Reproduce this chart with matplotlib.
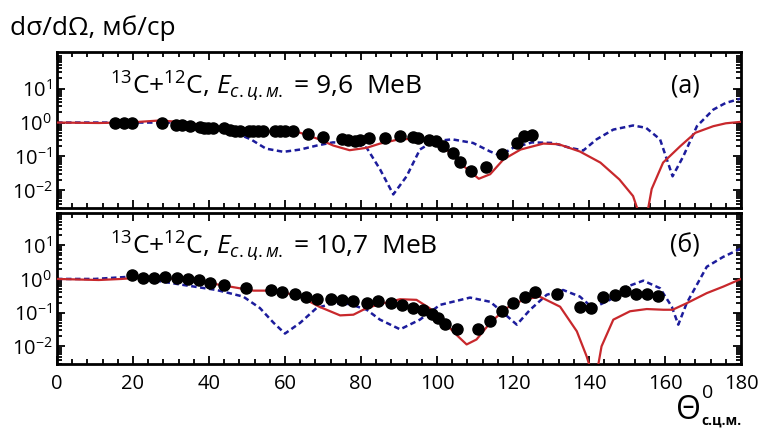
import matplotlib
matplotlib.use('Agg')
import matplotlib.pyplot as plt
from matplotlib.ticker import MultipleLocator, LogLocator, NullFormatter, FixedLocator
import numpy as np

plt.rcParams['font.family'] = ['Open Sans', 'DejaVu Sans']
plt.rcParams['mathtext.fontset'] = 'custom'
plt.rcParams['mathtext.rm'] = 'Open Sans'
plt.rcParams['mathtext.it'] = 'Open Sans:italic'

# ---- panel (a): E = 9,6 MeV ----
exp_a_x = [15.3, 17.6, 19.7, 27.7, 31.2, 32.8, 35.0, 37.6, 38.7, 39.8, 41.1, 43.9, 45.5,
           46.8, 48.2, 50.4, 51.7, 53.0, 54.3, 57.4, 58.7, 60.0, 62.2, 66.1, 70.1, 74.9,
           76.7, 78.4, 79.7, 82.2, 86.3, 90.3, 93.8, 95.1, 98.0, 99.7, 101.7, 104.3,
           106.0, 108.9, 112.9, 117.0, 121.0, 123.0, 124.9]
exp_a_y = [1.0, 1.0, 1.0, 0.98, 0.87, 0.83, 0.78, 0.73, 0.71, 0.71, 0.70, 0.67, 0.62,
           0.58, 0.58, 0.55, 0.55, 0.55, 0.55, 0.55, 0.55, 0.55, 0.58, 0.46, 0.38, 0.32,
           0.30, 0.28, 0.30, 0.35, 0.35, 0.40, 0.37, 0.35, 0.30, 0.28, 0.20, 0.13,
           0.068, 0.037, 0.049, 0.115, 0.25, 0.40, 0.44]

red_a_x = [0, 11, 20, 27, 32, 37.6, 45, 55, 64, 69, 72.7, 77, 81.5, 85, 90, 93.8, 98,
           102.5, 107, 111, 114, 117.5, 122, 128, 132, 137.6, 143, 148, 151.6, 153.2,
           155.3, 156.5, 159.5, 164, 168, 172.7, 176, 180]
red_a_y = [1.0, 0.97, 1.02, 1.15, 1.05, 0.87, 0.68, 0.55, 0.50, 0.32, 0.21, 0.153, 0.18,
           0.24, 0.32, 0.33, 0.28, 0.16, 0.052, 0.022, 0.03, 0.082, 0.16, 0.24, 0.23,
           0.14, 0.066, 0.021, 0.0068, 0.002, 0.002, 0.011, 0.066, 0.2, 0.5, 0.78, 0.95, 1.05]

blue_a_x = [0, 10, 20, 30, 38, 46, 51, 55, 59.6, 64, 68.4, 72.6, 78, 81.5, 85, 88.5,
            92, 95.5, 99, 104, 109.5, 114, 116.6, 120, 125, 130.5, 135, 138.5, 142,
            146.4, 151.6, 155, 158.7, 162, 164.8, 168.4, 172.7, 176, 180]
blue_a_y = [1.0, 1.0, 1.0, 1.0, 0.85, 0.55, 0.32, 0.17, 0.137, 0.16, 0.21, 0.26, 0.25,
            0.18, 0.042, 0.0076, 0.026, 0.16, 0.28, 0.32, 0.25, 0.14, 0.107, 0.18, 0.26,
            0.25, 0.18, 0.15, 0.32, 0.62, 0.82, 0.70, 0.32, 0.026, 0.10, 0.78, 2.4, 3.8, 5.1]

# ---- panel (б): E = 10,7 MeV ----
exp_b_x = [19.7, 22.7, 25.5, 28.4, 31.5, 34.6, 37.5, 40.3, 44.0, 49.7, 56.2, 59.1, 62.6,
           65.5, 68.3, 72.0, 74.9, 78.0, 81.5, 84.6, 88.0, 90.7, 93.8, 96.4, 98.6, 100.3,
           102.1, 105.2, 110.9, 114.0, 117.0, 120.0, 123.2, 125.8, 131.5, 137.6, 140.5,
           143.6, 146.8, 149.5, 152.5, 155.2, 158.2]
exp_b_y = [1.3, 1.05, 1.05, 1.12, 1.1, 1.0, 0.93, 0.78, 0.64, 0.53, 0.47, 0.40, 0.35,
           0.30, 0.26, 0.26, 0.24, 0.22, 0.20, 0.22, 0.20, 0.17, 0.137, 0.12, 0.091, 0.07,
           0.047, 0.033, 0.032, 0.055, 0.115, 0.19, 0.30, 0.42, 0.35, 0.147, 0.137,
           0.30, 0.34, 0.45, 0.35, 0.35, 0.32]

red_b_x = [0, 11, 17, 22.7, 31.5, 39.4, 46.4, 51.7, 57.8, 64, 69, 74.5, 78, 81.5, 85,
           90.3, 94.6, 98, 102.5, 105.5, 107.8, 110.4, 114, 118.3, 122.7, 127, 132.4,
           136.8, 139.4, 140.5, 142.2, 143.3, 146.4, 150.8, 155.2, 159.6, 162, 165.7,
           171, 175.3, 180]
red_b_y = [1.0, 0.93, 1.0, 1.12, 1.0, 0.78, 0.57, 0.45, 0.45, 0.30, 0.15, 0.083, 0.087,
           0.137, 0.18, 0.25, 0.24, 0.137, 0.044, 0.02, 0.0114, 0.016, 0.05, 0.137, 0.24,
           0.30, 0.15, 0.028, 0.005, 0.002, 0.002, 0.010, 0.062, 0.11, 0.128, 0.122,
           0.122, 0.19, 0.38, 0.59, 1.0]

blue_b_x = [0, 10, 19.5, 25, 33, 42, 49, 53.4, 57, 60, 64, 68.3, 72.7, 77, 81.5, 85,
            90.3, 95.5, 100.8, 108.7, 114, 117.5, 121, 124.5, 128.9, 133.2, 137.6, 141,
            145.5, 150, 154.3, 158.7, 161.8, 163.5, 165.7, 171, 175.3, 180]
blue_b_y = [1.0, 1.0, 1.17, 0.93, 0.67, 0.47, 0.30, 0.137, 0.05, 0.024, 0.05, 0.137,
            0.19, 0.18, 0.122, 0.062, 0.032, 0.062, 0.17, 0.28, 0.21, 0.098, 0.044, 0.122,
            0.34, 0.47, 0.30, 0.137, 0.24, 0.59, 0.89, 0.53, 0.15, 0.044, 0.19, 2.3, 4.5, 8.0]

energies = ['9,6', '10,7']
panel_tags = ['(a)', '(б)']

red = '#c8282c'
blue = '#1c1c9c'

fig = plt.figure(figsize=(7.61, 4.30), dpi=100)
ax_a = fig.add_axes([0.0749, 0.516, 0.8988, 0.363])
ax_b = fig.add_axes([0.0749, 0.1535, 0.8988, 0.351])

panels = [
    (ax_a, exp_a_x, exp_a_y, red_a_x, red_a_y, blue_a_x, blue_a_y, 1.2e2),
    (ax_b, exp_b_x, exp_b_y, red_b_x, red_b_y, blue_b_x, blue_b_y, 9e1),
]

for i, (ax, ex, ey, rx, ry, bx, by, ytop) in enumerate(panels):
    ax.plot(bx, by, color=blue, lw=1.8, ls=(0, (2.2, 1.4)), zorder=2)
    ax.plot(rx, ry, color=red, lw=1.6, zorder=3)
    ax.plot(ex, ey, 'o', color='black', ms=8, zorder=4)
    ax.set_yscale('log')
    ax.set_xlim(0, 180)
    ax.set_ylim(3e-3, ytop)
    ax.xaxis.set_major_locator(MultipleLocator(20))
    ax.xaxis.set_minor_locator(MultipleLocator(4))
    ax.yaxis.set_major_locator(FixedLocator([1e-2, 1e-1, 1, 10]))
    ax.yaxis.set_minor_locator(LogLocator(base=10, subs=np.arange(2, 10), numticks=20))
    ax.yaxis.set_minor_formatter(NullFormatter())
    ax.tick_params(which='both', direction='in', top=True, right=True, width=1.3)
    ax.tick_params(which='major', length=6, labelsize=14.5)
    ax.tick_params(which='minor', length=3.5)
    for s in ax.spines.values():
        s.set_linewidth(2)
    ax.set_yticklabels(['$10^{-2}$', '$10^{-1}$', '$10^{0}$', '$10^{1}$'])
    ax.text(0.077, 0.78, r'$^{13}$C+$^{12}$C, $E_{с.ц.м.}$ = ' + energies[i] + '  MeB',
            transform=ax.transAxes, fontsize=19, va='center', ha='left')
    ax.text(0.918, 0.78, panel_tags[i], transform=ax.transAxes, fontsize=18,
            va='center', ha='center')

ax_a.tick_params(labelbottom=False)
ax_b.tick_params(axis='x', pad=7)

fig.text(0.013, 0.935, 'dσ/dΩ, мб/ср', fontsize=19, ha='left', va='center')

# x label: Θ with superscript 0 and subscript с.ц.м.
fig.text(0.905, 0.045, 'Θ', fontsize=23, ha='center', va='center')
fig.text(0.930, 0.085, '0', fontsize=14, ha='center', va='center')
fig.text(0.921, 0.022, 'с.ц.м.', fontsize=10, ha='left', va='center', fontweight='bold')

fig.savefig('out.png', dpi=100)
